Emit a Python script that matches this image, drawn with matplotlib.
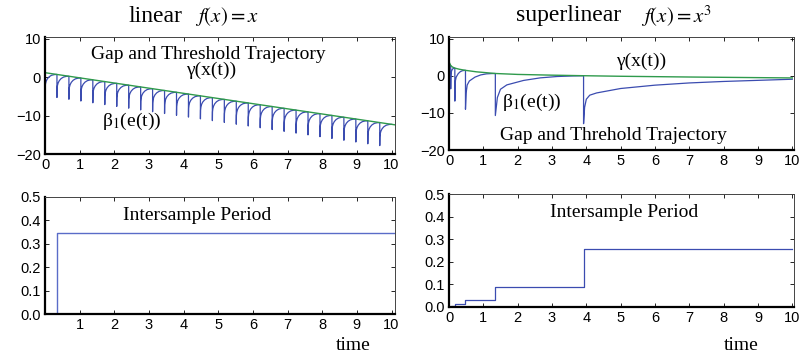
import numpy as np
import matplotlib
matplotlib.use("Agg")
import matplotlib.pyplot as plt

plt.rcParams['mathtext.fontset'] = 'stix'
plt.rcParams['font.family'] = 'Liberation Sans'

#-----------------------------------------------------------
# data
# linear case: threshold line gamma(x(t)) and sampling events
gamma_lin_t = [0.0, 10.1]
gamma_lin_v = [1.2, -12.4]
events_lin = [0.0, 0.345, 0.69, 1.035, 1.38, 1.725, 2.07, 2.415, 2.76, 3.105,
              3.45, 3.795, 4.14, 4.485, 4.83, 5.175, 5.52, 5.865, 6.21, 6.555,
              6.9, 7.245, 7.59, 7.935, 8.28, 8.625, 8.97, 9.315, 9.66, 10.005]
depth_lin = 6.0
# shape of one tooth: fraction of period vs fraction of depth below gamma
prof_lin_f = [0, 0.01, 0.04, 0.1, 0.2, 0.35, 0.55, 0.8, 1.0]
prof_lin_g = [1, 0.62, 0.48, 0.36, 0.25, 0.15, 0.07, 0.02, 0]

period_lin_t = [0.0, 0.345, 10.1]
period_lin_v = [0.0, 0.345, 0.345]

# superlinear case
gamma_sup_t = [0, 0.05, 0.1, 0.17, 0.3, 0.48, 0.8, 1.35, 2.0, 3.0, 3.92, 5.0, 7.0, 10.0]
gamma_sup_v = [3.8, 2.8, 2.4, 2.1, 1.8, 1.5, 1.1, 0.65, 0.4, 0.2, 0.05, -0.1, -0.3, -0.55]
events_sup = [0.0, 0.05, 0.17, 0.48, 1.35, 3.92]
bottoms_sup = [-1.5, -3.5, -6.8, -9.0, -10.7]
prof_sup_f = [0, 0.023, 0.058, 0.13, 0.32, 0.51, 0.7, 0.88, 1.0]
prof_sup_g = [1, 0.57, 0.37, 0.26, 0.14, 0.07, 0.03, 0.01, 0]
last_tooth_t = [3.92, 3.95, 4.0, 4.1, 4.3, 5.0, 6.0, 7.0, 8.0, 9.0, 10.0]
last_tooth_v = [-12.9, -8.5, -6.3, -5.2, -4.6, -3.4, -2.5, -1.9, -1.5, -1.2, -0.9]

period_sup_t = [0, 0.05, 0.17, 0.48, 1.35, 3.92, 10.0]
period_sup_v = [0.0, 0.004, 0.012, 0.03, 0.088, 0.257, 0.257]

blue = '#3b4cb0'
green = '#2f9a4c'

#-----------------------------------------------------------
def teeth(events, gt, gv, bottoms, pf, pg):
  ts, vs = [], []
  pf = np.array(pf)
  pg = np.array(pg)
  for i in range(len(events) - 1):
    t = events[i] + pf * (events[i+1] - events[i])
    g = np.interp(t, gt, gv)
    d = np.interp(events[i], gt, gv) - bottoms[i]
    ts.extend(t)
    vs.extend(g - d * pg)
  return ts, vs

def style(ax, xlim, ylim, yticks, yfmt, xticks, xlabels):
  ax.set_xlim(*xlim)
  ax.set_ylim(*ylim)
  ax.set_yticks(yticks)
  ax.set_yticklabels([yfmt.format(v).replace('-', '\u2212') for v in yticks])
  ax.set_xticks(xticks)
  ax.set_xticklabels(xlabels)
  ax.tick_params(direction='in', top=True, right=True, length=3, width=0.6,
                 labelsize=10.5, pad=3, colors='black')
  for s in ['left', 'bottom']:
    ax.spines[s].set_linewidth(1.6)
  for s in ['top', 'right']:
    ax.spines[s].set_linewidth(0.7)
    ax.spines[s].set_color('#444444')

W, H = 808, 356
fig = plt.figure(figsize=(W/100, H/100), dpi=100)
def box(x0, y0, x1, y1):
  return [x0/W, 1 - y1/H, (x1-x0)/W, (y1-y0)/H]

ax1 = fig.add_axes(box(45, 37, 395, 154))
ax2 = fig.add_axes(box(449, 37, 794, 150))
ax3 = fig.add_axes(box(45, 197, 395, 314))
ax4 = fig.add_axes(box(449, 194, 794, 307))

serif = 'Liberation Serif'
fs = 14

# linear top
bt, bv = teeth(events_lin, gamma_lin_t, gamma_lin_v,
               [np.interp(e, gamma_lin_t, gamma_lin_v) - depth_lin for e in events_lin],
               prof_lin_f, prof_lin_g)
ax1.plot(bt, bv, color=blue, lw=0.9)
ax1.plot(gamma_lin_t, gamma_lin_v, color=green, lw=1.0)
style(ax1, (0, 10.1), (-20, 10.5), [-20, -10, 0, 10], '{:g}',
      range(0, 11), [str(i) for i in range(0, 11)])
ax1.text(4.7, 6.0, 'Gap and Threshold Trajectory', family=serif, fontsize=fs,
         ha='center', va='center')
ax1.text(4.8, 1.7, 'γ(x(t))', family=serif, fontsize=fs, ha='center', va='center')
ax1.text(2.5, -11.4, r'β$_1$(e(t))', family=serif, fontsize=fs, ha='center', va='center')

# superlinear top
st, sv = teeth(events_sup, gamma_sup_t, gamma_sup_v, bottoms_sup,
               prof_sup_f, prof_sup_g)
ax2.plot(st + last_tooth_t, sv + last_tooth_v, color=blue, lw=0.9)
ax2.plot(gamma_sup_t, gamma_sup_v, color=green, lw=1.0)
style(ax2, (0, 10.05), (-20, 10.5), [-20, -10, 0, 10], '{:g}',
      range(0, 11), [str(i) for i in range(0, 11)])
ax2.text(5.6, 3.9, 'γ(x(t))', family=serif, fontsize=fs, ha='center', va='center')
ax2.text(2.4, -7.2, r'β$_1$(e(t))', family=serif, fontsize=fs, ha='center', va='center')
ax2.text(4.8, -16.0, 'Gap and Threhold Trajectory', family=serif, fontsize=fs,
         ha='center', va='center')

# intersample periods
ax3.plot(period_lin_t, period_lin_v, color='#5a6cc8', lw=1.0, drawstyle='steps-post')
style(ax3, (0, 10.1), (0, 0.5), [0, 0.1, 0.2, 0.3, 0.4, 0.5], '{:.1f}',
      range(0, 11), [''] + [str(i) for i in range(1, 11)])
ax3.text(4.4, 0.42, 'Intersample Period', family=serif, fontsize=fs,
         ha='center', va='center')

ax4.plot(period_sup_t, period_sup_v, color=blue, lw=0.9, drawstyle='steps-post')
style(ax4, (0, 10.05), (0, 0.5), [0, 0.1, 0.2, 0.3, 0.4, 0.5], '{:.1f}',
      range(0, 11), [str(i) for i in range(0, 11)])
ax4.text(5.1, 0.42, 'Intersample Period', family=serif, fontsize=fs,
         ha='center', va='center')

# titles and axis labels
fig.text(128/W, 1 - 16/H, 'linear', family=serif, fontsize=17, ha='left', va='center')
fig.text(195/W, 1 - 17/H, r'$f(x) = x$', fontsize=15, ha='left', va='center')
fig.text(516/W, 1 - 16/H, 'superlinear', family=serif, fontsize=17, ha='left', va='center')
fig.text(641/W, 1 - 16/H, r'$f(x) = x^3$', fontsize=15, ha='left', va='center')
fig.text(353/W, 1 - 345/H, 'time', family=serif, fontsize=fs, ha='center', va='center')
fig.text(741/W, 1 - 345/H, 'time', family=serif, fontsize=fs, ha='center', va='center')

fig.savefig('out.png', dpi=100)
